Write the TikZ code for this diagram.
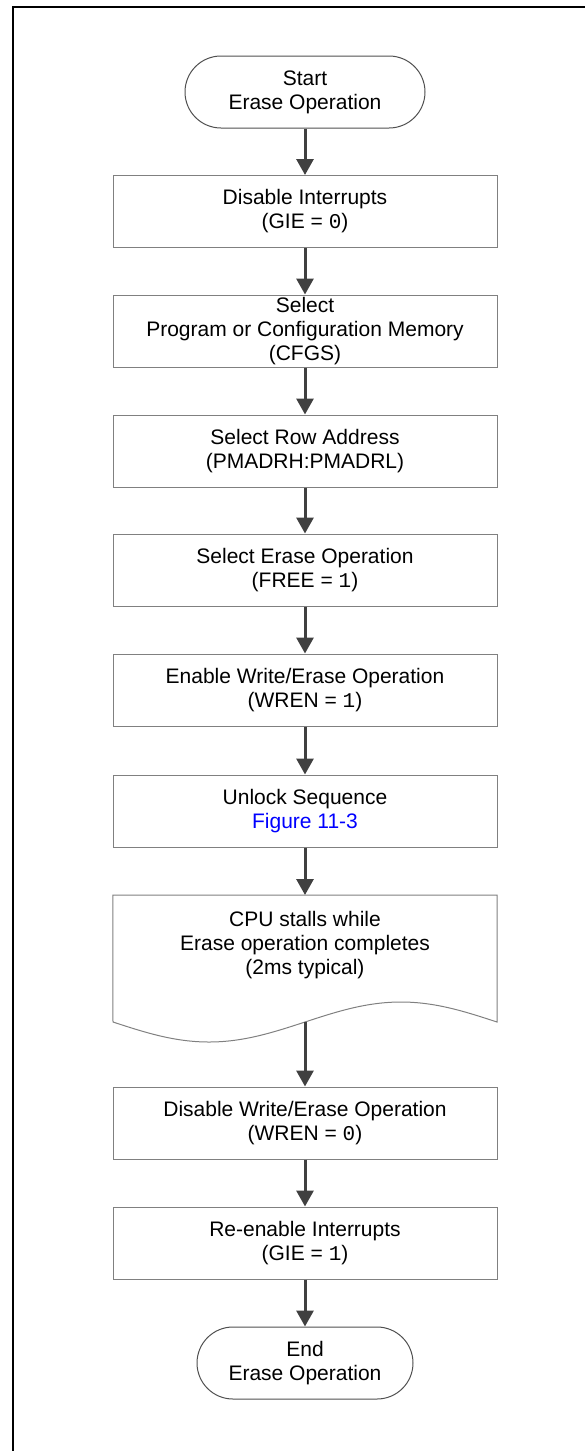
\documentclass[tikz,border=0pt]{standalone}
\usepackage{fontspec}
\setmainfont{Liberation Sans}
\newfontfamily\monof{Liberation Mono}
\usetikzlibrary{arrows.meta,shapes.misc}
\definecolor{boxline}{HTML}{808080}
\definecolor{arrowc}{HTML}{404040}
\definecolor{termline}{HTML}{505050}
\definecolor{linkblue}{HTML}{0000FF}
\begin{document}
\begin{tikzpicture}[x=1pt,y=-1pt,
  every node/.style={font=\fontsize{21}{24}\selectfont, align=center, inner sep=0pt},
  procbox/.style={draw=boxline, line width=1pt, minimum width=384pt, minimum height=72pt},
  term/.style={draw=termline, line width=1pt, rounded rectangle, minimum height=72pt},
  flow/.style={draw=arrowc, line width=3pt, -{Triangle[length=16pt,width=17pt]}},
  frameline/.style={line width=2.2pt, draw=black}]
\useasboundingbox (0,0) rectangle (585,1451);
\draw[frameline] (13,1451) -- (13,7) -- (585,7);

\node[term, minimum width=240pt] (start) at (305,92) {Start\\Erase Operation};
\node[procbox] (b1) at (305,211.5) {Disable Interrupts\\(GIE = {\monof 0})};
\node[procbox] (b2) at (305,331) {Select\\Program or Configuration Memory\\(CFGS)};
\node[procbox] (b3) at (305,451) {Select Row Address\\(PMADRH:PMADRL)};
\node[procbox] (b4) at (305,570) {Select Erase Operation\\(FREE = {\monof 1})};
\node[procbox] (b5) at (305,690) {Enable Write/Erase Operation\\(WREN = {\monof 1})};
\node[procbox] (b6) at (305,811) {Unlock Sequence\\\textcolor{linkblue}{Figure 11-3}};

\node[minimum width=384pt, minimum height=127pt, anchor=north] (doc) at (305,895) {};
\draw[draw=boxline, line width=1pt] (doc.north west) -- (doc.north east) -- (497,1022)
  sin (401,1002) cos (305,1022) sin (209,1042) cos (113,1022) -- cycle;
\node (doctext) at (305,945) {CPU stalls while\\Erase operation completes\\(2ms typical)};
\coordinate (docout) at (305,1022);

\node[procbox] (b7) at (305,1123) {Disable Write/Erase Operation\\(WREN = {\monof 0})};
\node[procbox] (b8) at (305,1243) {Re-enable Interrupts\\(GIE = {\monof 1})};
\node[term, minimum width=216pt] (end) at (305,1363) {End\\Erase Operation};

\draw[flow] (start.south) -- (b1.north);
\draw[flow] (b1.south) -- (b2.north);
\draw[flow] (b2.south) -- (b3.north);
\draw[flow] (b3.south) -- (b4.north);
\draw[flow] (b4.south) -- (b5.north);
\draw[flow] (b5.south) -- (b6.north);
\draw[flow] (b6.south) -- (doc.north);
\draw[flow] (docout) -- (b7.north);
\draw[flow] (b7.south) -- (b8.north);
\draw[flow] (b8.south) -- (end.north);
\end{tikzpicture}
\end{document}
